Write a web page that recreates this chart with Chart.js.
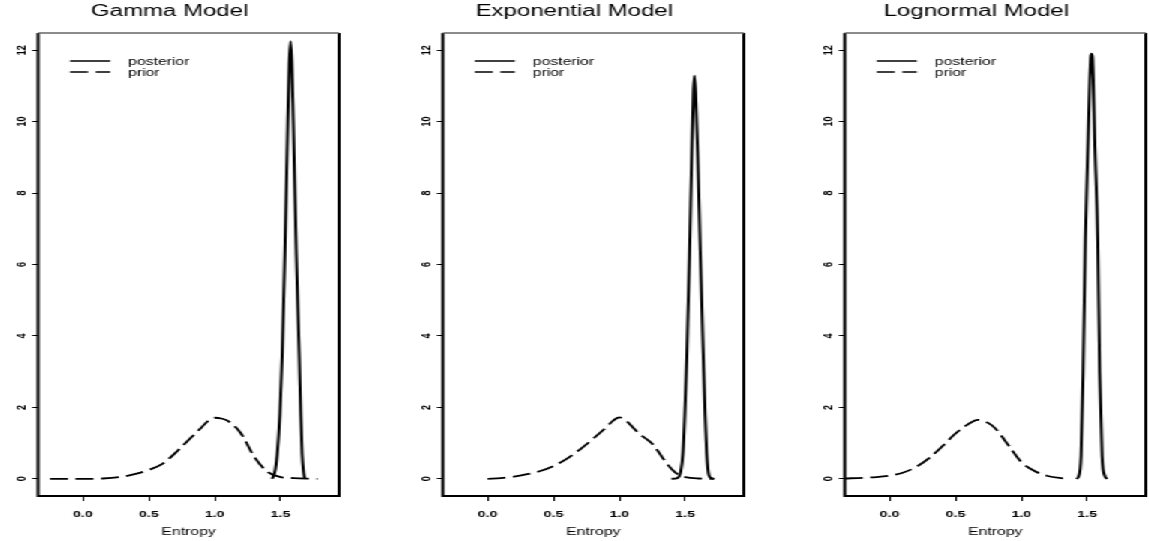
<!DOCTYPE html>
<html>
<head>
<meta charset="utf-8">
<script src="https://cdn.jsdelivr.net/npm/chart.js@4"></script>
<style>
  html, body { margin: 0; padding: 0; background: #fff; overflow: hidden; }
  /* the reference is stretched sideways, so the three panels are too */
  #stretch { position: absolute; left: 0; top: 0; width: 766px; height: 541px; transform: scaleX(1.5); transform-origin: 0 0; }
  #stretch canvas { position: absolute; top: 0; }
</style>
</head>
<body>
<div id="stretch">
  <canvas id="gammaChart" width="251" height="541" style="left:0px"></canvas>
  <canvas id="expChart" width="251" height="541" style="left:269.5px"></canvas>
  <canvas id="lognormChart" width="251" height="541" style="left:538.2px"></canvas>
</div>
<script>
const titles = ["Gamma Model", "Exponential Model", "Lognormal Model"];
const seriesLabels = ["posterior", "prior"];
const xTitle = "Entropy";
const xTicks = [0.0, 0.5, 1.0, 1.5];
const yTicks = [0, 2, 4, 6, 8, 10, 12];

// Gamma model
const gammaPostX = [1.437, 1.46, 1.475, 1.495, 1.513, 1.533, 1.555, 1.566, 1.576, 1.586, 1.597, 1.62, 1.642, 1.654, 1.664, 1.675, 1.684];
const gammaPostY = [0, 0.25, 0.7, 1.8, 3.5, 6.3, 10.0, 11.6, 12.25, 11.6, 10.0, 6.3, 3.5, 1.8, 0.7, 0.2, 0];
const gammaPriorX = [-0.25, 0.0, 0.15, 0.3, 0.4, 0.5, 0.6, 0.7, 0.8, 0.9, 0.95, 1.0, 1.05, 1.1, 1.2, 1.3, 1.4, 1.5, 1.6, 1.7, 1.78];
const gammaPriorY = [0, 0, 0.01, 0.06, 0.14, 0.25, 0.41, 0.72, 1.08, 1.44, 1.62, 1.71, 1.69, 1.62, 1.27, 0.62, 0.2, 0.05, 0.02, 0.005, 0];

// Exponential model
const expPostX = [1.395, 1.44, 1.466, 1.483, 1.497, 1.513, 1.533, 1.55, 1.562, 1.570, 1.579, 1.595, 1.615, 1.637, 1.651, 1.663, 1.68, 1.70, 1.72];
const expPostY = [0, 0.02, 0.2, 0.72, 1.8, 3.5, 6.3, 9.1, 10.8, 11.28, 10.8, 9.1, 6.3, 3.5, 1.8, 0.72, 0.1, 0.02, 0];
const expPriorX = [0.0, 0.1, 0.2, 0.3, 0.4, 0.5, 0.6, 0.7, 0.8, 0.9, 0.95, 1.0, 1.05, 1.1, 1.15, 1.2, 1.25, 1.3, 1.35, 1.4, 1.45, 1.5, 1.6, 1.72];
const expPriorY = [0, 0.02, 0.06, 0.13, 0.22, 0.36, 0.56, 0.82, 1.12, 1.44, 1.62, 1.72, 1.63, 1.45, 1.27, 1.13, 0.98, 0.74, 0.48, 0.26, 0.11, 0.05, 0.01, 0];

// Lognormal model
const lnPostX = [1.418, 1.435, 1.453, 1.469, 1.486, 1.507, 1.52, 1.527, 1.533, 1.54, 1.546, 1.557, 1.58, 1.595, 1.613, 1.635, 1.652];
const lnPostY = [0, 0.07, 0.63, 2.97, 6.7, 9.5, 11.2, 11.8, 11.9, 11.8, 11.2, 9.5, 6.7, 2.97, 0.63, 0.07, 0];
const lnPriorX = [-0.34, -0.2, -0.1, 0.0, 0.1, 0.2, 0.3, 0.4, 0.5, 0.6, 0.67, 0.75, 0.8, 0.9, 1.0, 1.1, 1.2, 1.3, 1.37];
const lnPriorY = [0.01, 0.03, 0.05, 0.09, 0.17, 0.33, 0.58, 0.91, 1.27, 1.54, 1.65, 1.56, 1.42, 0.95, 0.47, 0.22, 0.08, 0.02, 0];

const FONT = "'Liberation Sans', Arial, Helvetica, sans-serif";

function toPoints(xs, ys) {
  return xs.map((x, i) => ({ x: x, y: ys[i] }));
}

// box around the plot region, like R's box()
const framePlugin = {
  id: "frame",
  afterDraw(chart) {
    const a = chart.chartArea;
    const ctx = chart.ctx;
    ctx.save();
    ctx.strokeStyle = "#000";
    ctx.lineWidth = 2;
    ctx.beginPath();
    ctx.moveTo(a.left, a.top);
    ctx.lineTo(a.left, a.bottom);
    ctx.lineTo(a.right, a.bottom);
    ctx.lineTo(a.right, a.top);
    ctx.stroke();
    ctx.strokeStyle = "#666";
    ctx.lineWidth = 1.5;
    ctx.beginPath();
    ctx.moveTo(a.left, a.top);
    ctx.lineTo(a.right, a.top);
    ctx.stroke();
    ctx.restore();
  }
};

// legend without a box, inside the top-left corner
const innerLegend = {
  id: "innerLegend",
  afterDraw(chart) {
    const a = chart.chartArea;
    const ctx = chart.ctx;
    ctx.save();
    chart.data.datasets.forEach((ds, i) => {
      const y = a.top + 28 + i * 11;
      ctx.strokeStyle = ds.borderColor;
      ctx.lineWidth = 1.5;
      ctx.setLineDash(ds.borderDash || []);
      ctx.beginPath();
      ctx.moveTo(a.left + 21.3, y);
      ctx.lineTo(a.left + 48, y);
      ctx.stroke();
      ctx.setLineDash([]);
      ctx.fillStyle = "#000";
      ctx.font = "10.5px " + FONT;
      ctx.textBaseline = "middle";
      ctx.textAlign = "left";
      ctx.fillText(ds.label, a.left + 60, y + 1);
    });
    ctx.restore();
  }
};

function makeChart(id, title, postX, postY, priorX, priorY) {
  const ctx = document.getElementById(id).getContext("2d");
  return new Chart(ctx, {
    type: "line",
    data: {
      datasets: [{
        label: seriesLabels[0],
        data: toPoints(postX, postY),
        borderColor: "#000",
        borderWidth: 2,
        pointRadius: 0,
        cubicInterpolationMode: "monotone",
        fill: false
      }, {
        label: seriesLabels[1],
        data: toPoints(priorX, priorY),
        borderColor: "#000",
        borderWidth: 1.8,
        borderDash: [12, 5],
        pointRadius: 0,
        cubicInterpolationMode: "monotone",
        fill: false
      }]
    },
    options: {
      responsive: false,
      animation: false,
      layout: { padding: { left: 0, right: 25, top: 0, bottom: 0 } },
      plugins: {
        legend: { display: false },
        tooltip: { enabled: false },
        title: {
          display: true,
          text: title,
          color: "#000",
          font: { family: FONT, size: 16, weight: "normal" },
          padding: { top: 2, bottom: 11.8 }
        }
      },
      scales: {
        x: {
          type: "linear",
          min: -0.34,
          max: 1.945,
          afterBuildTicks: (scale) => { scale.ticks = xTicks.map(v => ({ value: v })); },
          afterFit: (scale) => { scale.height = 45; },
          border: { display: false },
          grid: { drawOnChartArea: false, drawTicks: true, tickLength: 5, color: "#000", lineWidth: 1 },
          ticks: {
            autoSkip: false,
            maxRotation: 0,
            padding: 7.5,
            color: "#000",
            font: { family: FONT, size: 9.5, weight: "bold" },
            callback: (v) => Number(v).toFixed(1)
          },
          title: {
            display: true,
            text: xTitle,
            color: "#000",
            font: { family: FONT, size: 10.5 },
            padding: { top: 0, bottom: 3 }
          }
        },
        y: {
          min: -0.48,
          max: 12.48,
          afterBuildTicks: (scale) => { scale.ticks = yTicks.map(v => ({ value: v })); },
          afterFit: (scale) => { scale.width = 25.33; },
          border: { display: false },
          grid: { drawOnChartArea: false, drawTicks: true, tickLength: 4, color: "#000", lineWidth: 1 },
          ticks: {
            autoSkip: false,
            minRotation: 90,
            maxRotation: 90,
            crossAlign: "center",
            padding: 2.3,
            color: "#000",
            font: { family: FONT, size: 9, weight: "bold" }
          }
        }
      }
    },
    plugins: [framePlugin, innerLegend]
  });
}

makeChart("gammaChart", titles[0], gammaPostX, gammaPostY, gammaPriorX, gammaPriorY);
makeChart("expChart", titles[1], expPostX, expPostY, expPriorX, expPriorY);
makeChart("lognormChart", titles[2], lnPostX, lnPostY, lnPriorX, lnPriorY);
</script>
</body>
</html>
